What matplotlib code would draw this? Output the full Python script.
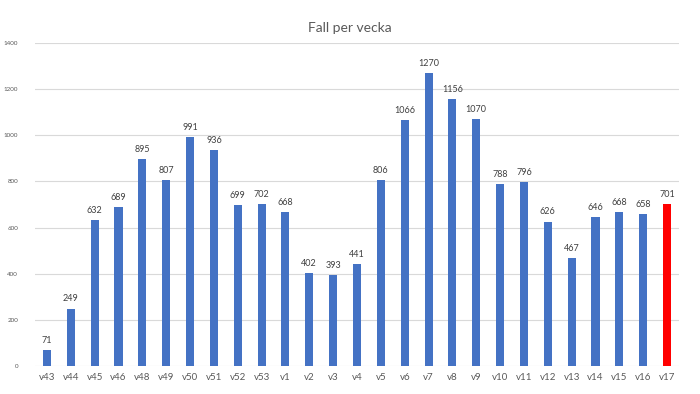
import numpy as np
import matplotlib
matplotlib.use('Agg')
import matplotlib.pyplot as plt

plt.rcParams['font.family'] = ['Lato', 'DejaVu Sans']

# weekly case counts
weeks = ['v43', 'v44', 'v45', 'v46', 'v48', 'v49', 'v50', 'v51', 'v52', 'v53',
         'v1', 'v2', 'v3', 'v4', 'v5', 'v6', 'v7', 'v8', 'v9', 'v10',
         'v11', 'v12', 'v13', 'v14', 'v15', 'v16', 'v17']
cases = [71, 249, 632, 689, 895, 807, 991, 936, 699, 702,
         668, 402, 393, 441, 806, 1066, 1270, 1156, 1070, 788,
         796, 626, 467, 646, 668, 658, 701]
yticks = [0, 200, 400, 600, 800, 1000, 1200, 1400]

colors = ['#4472C4'] * (len(cases) - 1) + ['#FF0000']

fig = plt.figure(figsize=(7, 3.94), dpi=100)
ax = fig.add_axes([0.05, 0.071, 0.92, 0.82])
x = np.arange(len(weeks))
bars = ax.bar(x, cases, width=0.34, color=colors, zorder=3)

for xi, v in zip(x, cases):
    ax.text(xi, v + 22, str(v), ha='center', va='bottom', fontsize=6.5, color='#404040')

ax.set_xlim(-0.5, len(weeks) - 0.5)
ax.set_ylim(0, 1400)
ax.set_yticks(yticks)
ax.set_yticklabels([str(t) for t in yticks], fontsize=4.5, color='#595959')
ax.set_xticks(x)
ax.set_xticklabels(weeks, fontsize=7, color='#595959')
ax.tick_params(axis='both', length=0)
ax.tick_params(axis='x', pad=5)
ax.tick_params(axis='y', pad=12)
ax.grid(axis='y', color='#D9D9D9', linewidth=0.8, zorder=0)
for s in ax.spines.values():
    s.set_visible(False)

fig.text(0.5, 0.93, 'Fall per vecka', ha='center', va='center', fontsize=10, color='#595959')

fig.savefig('out.png', dpi=100)
